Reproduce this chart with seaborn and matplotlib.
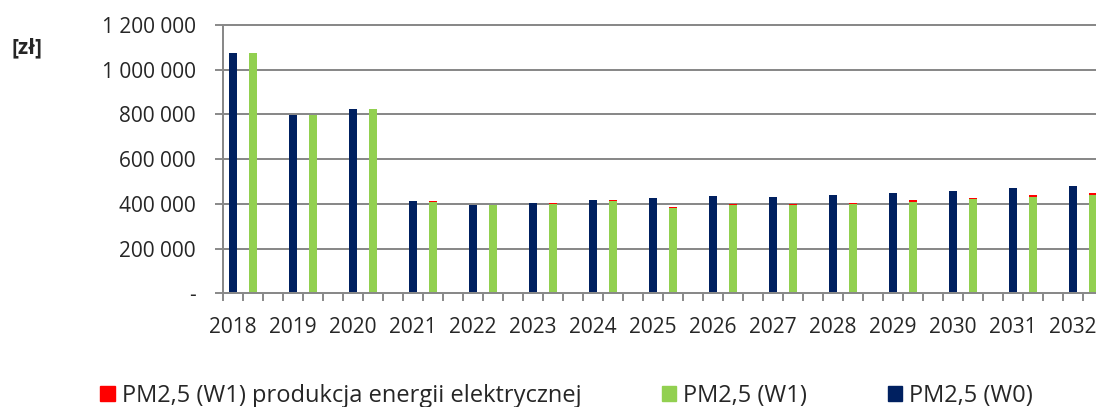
import numpy as np
import pandas as pd
import seaborn as sns
import matplotlib.pyplot as plt
from matplotlib import ticker
from matplotlib.patches import Patch

years = list(range(2018, 2033))
w0 = [1075000, 798000, 823000, 411000, 396000, 405000, 416000, 426000,
      437000, 431000, 438000, 449000, 459000, 470000, 480000]
w1 = [1075000, 797000, 823000, 410000, 394000, 401000, 414000, 383000,
      396000, 396000, 401000, 410000, 421000, 432000, 440000]
w1_el = [0, 0, 0, 1500, 2000, 2000, 3000, 2000,
         3000, 4000, 5000, 6000, 6500, 7000, 7500]

labels = ['PM2,5 (W1) produkcja energii elektrycznej', 'PM2,5 (W1)', 'PM2,5 (W0)']
navy = '#002060'
green = '#92D050'
red = '#FF0000'
grey = '#898989'

sns.set_style('white')
plt.rcParams['font.family'] = ['Open Sans', 'DejaVu Sans']

# three slots per year: W0, W1 (stacked), empty
pos = np.arange(len(years)) * 3
df = pd.DataFrame({
    'pos_w0': pos,
    'pos_w1': pos + 1,
    'w0': w0,
    'w1': w1,
    'w1_tot': np.array(w1) + np.array(w1_el),
})

fig = plt.figure(figsize=(10.96, 4.07), dpi=100)
ax = fig.add_axes([223 / 1096, 113.7 / 407, 900 / 1096, 268.3 / 407])

kw = dict(native_scale=True, width=0.42 / 3, saturation=1, errorbar=None,
          linewidth=0, ax=ax)
sns.barplot(data=df, x='pos_w0', y='w0', color=navy, **kw)
sns.barplot(data=df, x='pos_w1', y='w1_tot', color=red, **kw)
sns.barplot(data=df, x='pos_w1', y='w1', color=green, **kw)

ax.set_xlim(-0.5, len(years) * 3 - 0.5)
ax.set_ylim(0, 1200000)
ax.set_xlabel('')
ax.set_ylabel('')

ax.set_yticks(np.arange(0, 1200001, 200000))
ax.yaxis.set_major_formatter(ticker.FuncFormatter(
    lambda v, p: '-' if v == 0 else f'{int(v):,}'.replace(',', ' ')))
ax.set_xticks(pos)
ax.set_xticklabels([str(y) for y in years])
ax.set_xticks(np.arange(-0.5, len(years) * 3, 1), minor=True)

ax.tick_params(axis='x', which='major', length=0, pad=17, labelsize=15)
ax.tick_params(axis='x', which='minor', length=5.8, width=1.4, color=grey,
               direction='out', bottom=True)
ax.tick_params(axis='y', length=5.8, width=1.4, color=grey, direction='out',
               left=True, pad=14, labelsize=15)

ax.set_axisbelow(True)
ax.grid(axis='y', color=grey, linewidth=1.44)
for side in ['left', 'bottom', 'top']:
    ax.spines[side].set_color(grey)
    ax.spines[side].set_linewidth(1.44)
ax.spines['right'].set_visible(False)

fig.text(27 / 1096, 1 - 48 / 407, '[zł]', ha='center', va='center',
         fontweight='bold', fontsize=15)

handles = [Patch(color=c, label=l) for c, l in zip([red, green, navy], labels)]
fig.legend(handles=handles, ncol=3, loc='center left',
           bbox_to_anchor=(100 / 1096, 11.5 / 407), frameon=False, fontsize=17,
           handlelength=0.62, handleheight=0.62, handletextpad=0.3,
           columnspacing=3.4, borderpad=0, borderaxespad=0)

fig.savefig('out.png', dpi=100)
